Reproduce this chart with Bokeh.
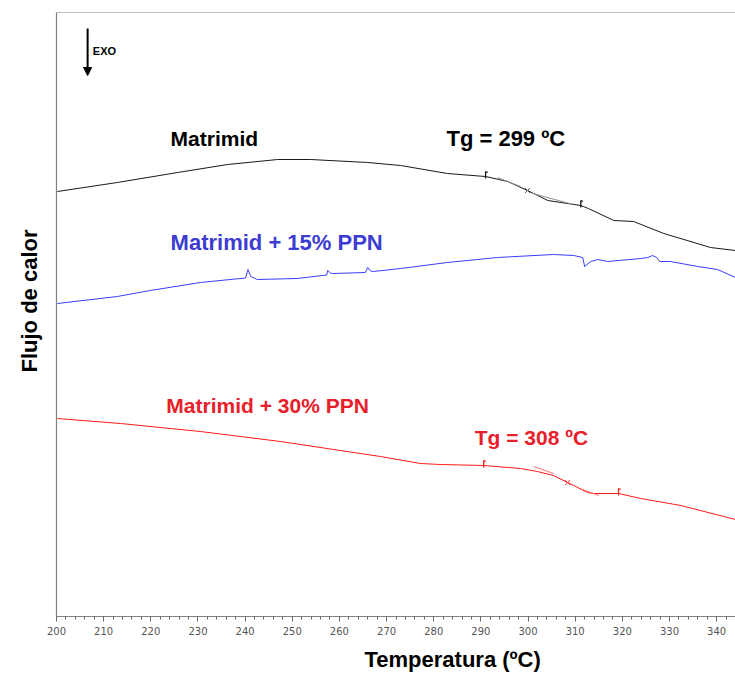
from bokeh.plotting import figure
from bokeh.models import Label, Arrow, NormalHead, Span, FixedTicker, Range1d, Title
from bokeh.embed import file_html
from bokeh.resources import INLINE

# ---------------- data ----------------
temp_matrimid = [200.2, 212.9, 225.7, 236.3, 246.9, 253.9, 266.0, 273.0, 282.9, 291.0,
                 295.7, 299.9, 304.2, 311.2, 312.8, 318.2, 322.4, 328.8, 338.7, 344.0]
flow_matrimid = [4.25, 4.34, 4.44, 4.52, 4.57, 4.57, 4.54, 4.51, 4.43, 4.40,
                 4.35, 4.26, 4.16, 4.11, 4.08, 3.96, 3.95, 3.83, 3.69, 3.66]

temp_ppn15 = [200.2, 212.9, 219.9, 230.5, 240.1, 240.6, 241.2, 242.6, 251.1, 257.3,
              257.5, 258.1, 258.6, 265.5, 266.0, 266.6, 267.2, 273.0, 282.9, 293.5,
              305.4, 309.7, 311.6, 312.0, 313.3, 314.8, 316.9, 323.9, 325.4, 326.4,
              327.3, 327.9, 330.2, 336.0, 340.2, 344.0]
flow_ppn15 = [3.13, 3.20, 3.26, 3.34, 3.385, 3.47, 3.40, 3.37, 3.38, 3.415,
              3.46, 3.435, 3.43, 3.44, 3.49, 3.455, 3.45, 3.48, 3.54, 3.59,
              3.62, 3.61, 3.59, 3.50, 3.55, 3.57, 3.55, 3.58, 3.59, 3.61,
              3.59, 3.55, 3.55, 3.50, 3.47, 3.39]

temp_ppn30 = [200.2, 213.6, 230.5, 247.5, 260.2, 268.7, 277.2, 281.5, 290.6, 298.4,
              302.0, 305.4, 308.4, 309.7, 312.6, 313.9, 319.2, 323.9, 332.4, 344.0]
flow_ppn30 = [1.98, 1.93, 1.85, 1.75, 1.66, 1.60, 1.53, 1.52, 1.51, 1.48,
              1.45, 1.41, 1.34, 1.31, 1.24, 1.23, 1.23, 1.18, 1.11, 0.97]

# Tg analysis marks: onset, midpoint (Tg), end
tg_matrimid_temp = [291.0, 299.9, 311.2]
tg_matrimid_flow = [4.40, 4.26, 4.11]
tg_ppn30_temp = [290.6, 308.4, 319.2]
tg_ppn30_flow = [1.51, 1.34, 1.23]

# tangent segments used for the Tg construction
tan_m_x0 = [293.5, 301.0]
tan_m_y0 = [4.39, 4.23]
tan_m_x1 = [298.4, 309.6]
tan_m_y1 = [4.30, 4.12]
tan_r_x0 = [301.2, 311.0]
tan_r_y0 = [1.50, 1.28]
tan_r_x1 = [305.4, 315.0]
tan_r_y1 = [1.43, 1.21]

major_ticks = [200, 210, 220, 230, 240, 250, 260, 270, 280, 290, 300, 310, 320, 330, 340]
minor_ticks = list(range(200, 345, 2))

# ---------------- figure ----------------
p = figure(width=735, height=679, output_backend="svg", toolbar_location=None,
           x_range=Range1d(200, 344), y_range=Range1d(0, 6.04),
           min_border_left=56, min_border_right=0, min_border_top=12, min_border_bottom=63)
p.outline_line_color = None
p.grid.visible = False
p.background_fill_color = "white"
p.border_fill_color = "white"

p.add_layout(Span(location=6.04, dimension="width", line_color="#808080", line_width=1.2))

# x axis
xa = p.xaxis[0]
xa.ticker = FixedTicker(ticks=major_ticks, minor_ticks=minor_ticks)
xa.axis_line_color = "#808080"
xa.axis_line_width = 1.2
xa.major_tick_line_color = "#666666"
xa.minor_tick_line_color = "#666666"
xa.major_tick_in = 0
xa.major_tick_out = 5
xa.minor_tick_in = 0
xa.minor_tick_out = 3
xa.major_label_standoff = 5
xa.major_label_text_font = "DejaVu Sans"
xa.major_label_text_font_size = "10px"
xa.major_label_text_color = "#555555"

# y axis (line only)
ya = p.yaxis[0]
ya.ticker = FixedTicker(ticks=[])
ya.major_tick_line_color = None
ya.minor_tick_line_color = None
ya.major_label_text_font_size = "0px"
ya.axis_line_color = "#808080"
ya.axis_line_width = 1.2

# axis titles as Titles so that they can be offset like in the reference
p.add_layout(Title(text="Temperatura (ºC)", align="left", offset=308,
                   text_font="Liberation Sans", text_font_style="bold", text_line_height=0.7,
                   text_font_size="22px", text_color="black", standoff=15), "below")
p.add_layout(Title(text="Flujo de calor", align="left", offset=244,
                   text_font="Liberation Sans", text_font_style="bold",
                   text_font_size="22px", text_color="black", standoff=29), "left")

# curves
p.line(temp_matrimid, flow_matrimid, line_color="#1a1a1a", line_width=1)
p.line(temp_ppn15, flow_ppn15, line_color="#3b3bff", line_width=1)
p.line(temp_ppn30, flow_ppn30, line_color="#ff1a1a", line_width=1)

# Tg construction marks
p.segment(tan_m_x0, tan_m_y0, tan_m_x1, tan_m_y1, line_color="#909090", line_width=1)
p.segment(tan_r_x0, tan_r_y0, tan_r_x1, tan_r_y1, line_color="#ff7070", line_width=1)
p.scatter([tg_matrimid_temp[1]], [tg_matrimid_flow[1]], marker="x", size=7,
          line_color="#555555", line_width=1)
p.scatter([tg_ppn30_temp[1]], [tg_ppn30_flow[1]], marker="x", size=7,
          line_color="#ff3030", line_width=1)
for tx, ty, col in [(tg_matrimid_temp[0], tg_matrimid_flow[0], "#111111"),
                    (tg_matrimid_temp[2], tg_matrimid_flow[2], "#111111"),
                    (tg_ppn30_temp[0], tg_ppn30_flow[0], "#ff1a1a"),
                    (tg_ppn30_temp[2], tg_ppn30_flow[2], "#ff1a1a")]:
    p.segment([tx], [ty - 0.02], [tx], [ty + 0.05], line_color=col, line_width=1.3)
    p.segment([tx], [ty + 0.05], [tx + 0.45], [ty + 0.04], line_color=col, line_width=1.3)

# EXO arrow
p.add_layout(Arrow(end=NormalHead(size=8, fill_color="black", line_color="black"),
                   x_start=206.6, y_start=5.88, x_end=206.6, y_end=5.41,
                   line_color="black", line_width=2))

def add_label(x, y, text, color, size):
    p.add_layout(Label(x=x, y=y, text=text, text_color=color, text_font="Liberation Sans",
                       text_font_style="bold", text_font_size=size,
                       text_baseline="middle", text_align="left"))

add_label(207.7, 5.66, "EXO", "black", "11px")
add_label(224.2, 4.78, "Matrimid", "black", "21px")
add_label(282.7, 4.78, "Tg = 299 ºC", "black", "22px")
add_label(224.2, 3.74, "Matrimid + 15% PPN", "#3c3cd2", "22px")
add_label(223.3, 2.11, "Matrimid + 30% PPN", "#e8202a", "21px")
add_label(288.7, 1.79, "Tg = 308 ºC", "#e8202a", "21px")

open("out.html", "w").write(file_html(p, INLINE))
